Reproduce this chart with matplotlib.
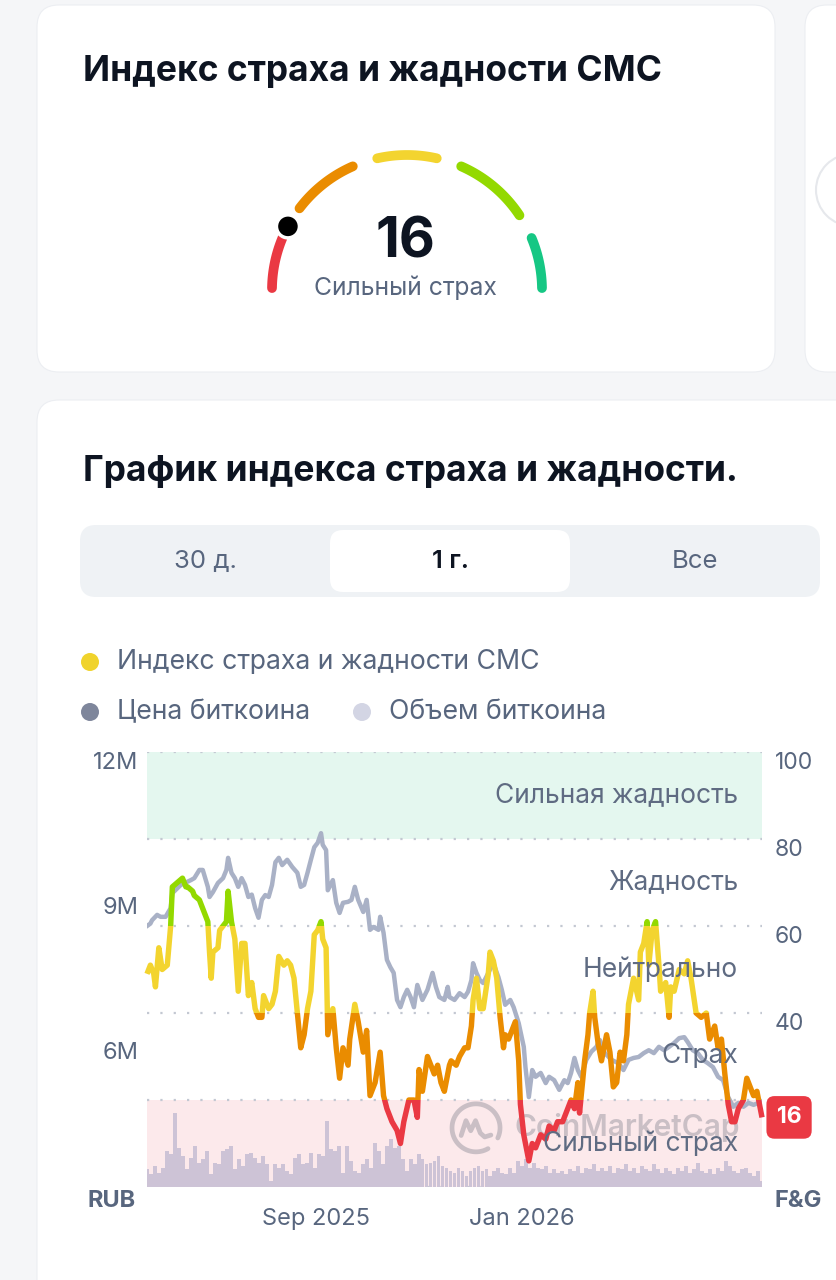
import numpy as np
import pandas as pd
import matplotlib
matplotlib.use('Agg')
import matplotlib.pyplot as plt
import matplotlib.transforms as mtrans
from matplotlib.patches import FancyBboxPatch, Rectangle, Circle

plt.rcParams['font.family'] = ['Inter', 'DejaVu Sans']

# --- данные ---
start_date = '2025-05-24'
current_value = 16
current_label = 'Сильный страх'

# индекс страха и жадности (дни от начала, значение 0..100)
fg_days = [0, 2, 4, 5, 7, 9, 12, 14, 15, 18,
           21, 23, 24, 27, 28, 31, 33, 36, 37, 38,
           39, 42, 43, 45, 47, 48, 50, 52, 54, 56,
           58, 60, 62, 64, 66, 68, 69, 72, 74, 76,
           78, 81, 83, 85, 87, 89, 91, 93, 95, 97,
           99, 101, 103, 104, 106, 107, 110, 112, 114, 116,
           119, 120, 123, 125, 128, 130, 132, 135, 138, 140,
           142, 145, 148, 150, 152, 155, 158, 160, 161, 163,
           166, 168, 170, 172, 174, 176, 179, 180, 183, 185,
           188, 190, 192, 193, 195, 197, 199, 202, 203, 205,
           207, 209, 211, 212, 214, 217, 218, 220, 221, 223,
           226, 228, 230, 233, 236, 238, 241, 243, 246, 248,
           251, 253, 255, 256, 259, 261, 262, 264, 265, 267,
           269, 272, 274, 276, 278, 280, 282, 284, 285, 287,
           288, 291, 292, 294, 296, 297, 299, 301, 303, 304,
           307, 309, 310, 312, 315, 318, 320, 322, 325, 328,
           331, 333, 336, 338, 340, 342, 344, 346, 348, 350,
           353, 355, 357, 359, 361, 362, 364]
fg_vals = [49, 51, 49, 46, 55, 50, 51, 60, 69, 70,
           71, 69, 69, 68, 67, 66, 64, 61, 54, 48,
           54, 55, 59, 60, 61, 68, 61, 57, 45, 56,
           56, 44, 47, 41, 39, 39, 44, 41, 42, 45,
           53, 51, 52, 51, 48, 40, 32, 35, 41, 45,
           58, 59, 61, 57, 55, 35, 41, 32, 25, 32,
           28, 34, 42, 38, 31, 36, 21, 24, 31, 21,
           18, 15, 13, 10, 15, 20, 20, 16, 27, 22,
           30, 28, 26, 28, 24, 22, 28, 29, 28, 30,
           32, 32, 37, 43, 48, 41, 41, 49, 54, 52,
           48, 39, 32, 35, 34, 37, 38, 29, 19, 12,
           6, 10, 9, 12, 11, 14, 13, 15, 15, 17,
           20, 18, 24, 17, 29, 35, 40, 45, 39, 33,
           29, 35, 31, 23, 24, 31, 29, 35, 42, 46,
           48, 43, 54, 56, 61, 51, 59, 61, 51, 45,
           47, 39, 46, 45, 50, 49, 52, 48, 40, 39,
           40, 34, 37, 32, 34, 26, 19, 15, 15, 18,
           20, 25, 23, 21, 22, 20, 16]

# цена биткоина, млн руб.
price_days = [0, 2, 3, 6, 8, 11, 14, 15, 20, 26,
              28, 31, 33, 36, 37, 39, 42, 45, 47, 48,
              50, 52, 54, 56, 58, 60, 62, 64, 66, 68,
              70, 72, 74, 76, 78, 80, 83, 86, 89, 91,
              93, 95, 97, 99, 101, 103, 104, 106, 107, 110,
              112, 114, 116, 119, 121, 123, 125, 128, 130, 132,
              134, 137, 138, 140, 142, 144, 146, 148, 150, 152,
              154, 156, 158, 160, 163, 166, 169, 171, 173, 176,
              178, 179, 182, 185, 188, 190, 192, 193, 195, 197,
              199, 202, 205, 208, 210, 212, 215, 217, 220, 223,
              224, 226, 228, 230, 233, 236, 238, 241, 244, 247,
              249, 251, 253, 255, 257, 260, 263, 266, 268, 271,
              275, 279, 282, 285, 288, 291, 294, 297, 300, 303,
              306, 309, 312, 315, 318, 320, 323, 326, 329, 332,
              335, 338, 341, 344, 347, 350, 353, 356, 359, 362,
              364]
price_vals = [8.40, 8.45, 8.52, 8.63, 8.59, 8.59, 8.77, 9.08, 9.25, 9.35,
              9.39, 9.56, 9.56, 9.21, 9.00, 9.10, 9.29, 9.39, 9.56, 9.81,
              9.50, 9.39, 9.21, 9.39, 9.25, 9.00, 9.05, 8.77, 8.57, 8.94,
              9.04, 9.00, 9.25, 9.72, 9.81, 9.66, 9.77, 9.62, 9.50, 9.21,
              9.25, 9.50, 9.77, 10.03, 10.12, 10.32, 10.08, 9.97, 9.14, 9.35,
              8.88, 8.67, 8.88, 8.90, 8.94, 9.21, 8.94, 8.69, 8.94, 8.32,
              8.38, 8.32, 8.59, 8.26, 7.70, 7.55, 7.43, 6.87, 6.72, 6.93,
              7.08, 6.93, 6.72, 7.18, 6.87, 7.08, 7.43, 7.14, 6.93, 6.87,
              7.14, 6.93, 6.87, 7.01, 6.93, 7.04, 7.28, 7.63, 7.43, 7.28,
              7.22, 7.43, 7.63, 7.34, 7.08, 6.77, 6.87, 6.72, 6.39, 5.90,
              5.48, 4.86, 5.42, 5.28, 5.36, 5.15, 5.28, 5.21, 5.01, 5.21,
              5.15, 5.36, 5.67, 5.42, 5.28, 5.63, 5.80, 5.90, 6.04, 5.77,
              5.63, 5.56, 5.42, 5.63, 5.67, 5.69, 5.77, 5.83, 5.77, 5.90,
              5.83, 5.90, 5.98, 6.08, 6.10, 6.00, 5.83, 5.77, 5.63, 5.56,
              5.48, 5.28, 5.21, 4.86, 4.66, 4.74, 4.66, 4.74, 4.70, 4.74,
              4.74]

# объем биткоина (условные единицы), равномерно по году
vol_vals = [18, 13, 21, 14, 19, 36, 33, 74, 39, 31, 18, 29, 41, 24, 28, 36, 13, 24,
            23, 36, 38, 41, 18, 28, 21, 33, 34, 29, 24, 31, 23, 6, 23, 19, 23, 16,
            13, 29, 33, 23, 24, 34, 19, 33, 31, 66, 38, 36, 41, 14, 41, 26, 16,
            14, 23, 28, 19, 44, 36, 23, 41, 48, 39, 41, 28, 16, 28, 23, 33, 28, 23,
            24, 26, 31, 21, 19, 16, 14, 19, 16, 11, 16, 19, 21, 16, 18, 11, 16, 19,
            14, 13, 19, 14, 26, 21, 28, 19, 24, 19, 18, 21, 14, 18, 14, 16,
            13, 18, 16, 21, 14, 19, 18, 23, 16, 19, 16, 21, 14, 19, 18, 23, 16, 19,
            14, 21, 18, 16, 23, 18, 14, 19, 16, 13, 19, 16, 21, 14, 18, 24, 16, 14,
            18, 13, 19, 16, 26, 21, 16, 14, 18, 19, 14, 11, 16, 6]

zone_bounds = [0, 20, 40, 60, 80, 100]
zone_colors = ['#ea3943', '#ea8c00', '#f3d42f', '#93d900', '#16c784']
zone_names = ['Сильный страх', 'Страх', 'Нейтрально', 'Жадность', 'Сильная жадность']
price_ticks = [6, 9, 12]
fg_ticks = [40, 60, 80, 100]
x_ticks = ['2025-09-01', '2026-01-01']
x_labels = ['Sep 2025', 'Jan 2026']
tabs = ['30 д.', '1 г.', 'Все']

dark = '#0d1421'
grey = '#58667e'

start = pd.Timestamp(start_date)
fg_dates = start + pd.to_timedelta(fg_days, unit='D')
price_dates = start + pd.to_timedelta(price_days, unit='D')
vol_days = np.linspace(0, 364, len(vol_vals))
vol_dates = start + pd.to_timedelta(vol_days, unit='D')
x_end = start + pd.Timedelta(days=364)

fig = plt.figure(figsize=(8.36, 12.8), dpi=100)
fig.patch.set_facecolor('#f5f6f8')

# фон, карточки, заголовки (координаты в пикселях картинки)
bg = fig.add_axes([0, 0, 1, 1])
bg.set_xlim(0, 836)
bg.set_ylim(1280, 0)
bg.axis('off')

bg.add_patch(FancyBboxPatch((37, 5), 738, 367, boxstyle='round,pad=0,rounding_size=22',
                            fc='white', ec='#eceef2', lw=0.8))
bg.add_patch(FancyBboxPatch((805, 5), 80, 367, boxstyle='round,pad=0,rounding_size=22',
                            fc='white', ec='#eceef2', lw=0.8))
bg.add_patch(Circle((852, 190), 36, fc='none', ec='#e6e8ec', lw=1.5))
bg.add_patch(FancyBboxPatch((37, 400), 840, 950, boxstyle='round,pad=0,rounding_size=22',
                            fc='white', ec='#eceef2', lw=0.8))

bg.text(83, 71, 'Индекс страха и жадности CMC', fontsize=25.5, fontweight='bold',
        color=dark, va='center', ha='left')

# шкала-полукруг
cx, cy, r = 407, 290, 135
def ang(v):
    return 181 - v * 1.82
gauge_spans = [(1, 13), (21, 37), (43, 57), (63, 81), (87, 99)]
for (v0, v1), col in zip(gauge_spans, zone_colors):
    t = np.radians(np.linspace(ang(v0), ang(v1), 80))
    bg.plot(cx + r * np.cos(t), cy - r * np.sin(t), color=col, lw=7,
            solid_capstyle='round')
ta = np.radians(ang(current_value))
bg.add_patch(Circle((cx + r * np.cos(ta), cy - r * np.sin(ta)), 11.5, fc='black',
                    ec='white', lw=2.5, zorder=5))
bg.text(405, 243, str(current_value), fontsize=40, fontweight='bold', color=dark,
        ha='center', va='center')
bg.text(405, 288, current_label, fontsize=17.8, color=grey, ha='center', va='center')

bg.text(83, 471, 'График индекса страха и жадности.', fontsize=25.5, fontweight='bold',
        color=dark, va='center', ha='left')

# переключатель периода
bg.add_patch(FancyBboxPatch((80, 525), 740, 72, boxstyle='round,pad=0,rounding_size=16',
                            fc='#eff2f5', ec='none'))
bg.add_patch(FancyBboxPatch((330, 530), 240, 62, boxstyle='round,pad=0,rounding_size=13',
                            fc='white', ec='none'))
for tx, lab in zip([205, 450, 695], tabs):
    sel = lab == '1 г.'
    bg.text(tx, 561, lab, fontsize=18.5, ha='center', va='center',
            color=dark if sel else grey, fontweight='semibold' if sel else 'normal')

# легенда
legend_items = [(90, 662, '#f0d32c', 'Индекс страха и жадности CMC'),
                (90, 712, '#7e869b', 'Цена биткоина'),
                (362, 712, '#d3d5e4', 'Объем биткоина')]
for lx, ly, col, lab in legend_items:
    bg.add_patch(Circle((lx, ly), 9, fc=col, ec='none'))
    bg.text(lx + 27, ly, lab, fontsize=19.2, color=grey, ha='left', va='center')

bg.text(112, 1201, 'RUB', fontsize=17, fontweight='bold', color=grey, ha='center', va='center')
bg.text(798, 1201, 'F&G', fontsize=17, fontweight='bold', color=grey, ha='center', va='center')

# --- график ---
rect = [147 / 836, (1280 - 1187) / 1280, 615 / 836, 435 / 1280]
ax = fig.add_axes(rect)
ax.set_facecolor('none')
axv = ax.twinx()
axp = ax.twinx()
axl = ax.twinx()
for a in (ax, axv, axp, axl):
    a.set_facecolor('none')
    for s in a.spines.values():
        s.set_visible(False)
    a.set_xlim(start, x_end)

ax.set_ylim(0, 100)
axl.set_ylim(0, 100)
blend = mtrans.blended_transform_factory(ax.transAxes, ax.transData)
ax.add_patch(Rectangle((0, 80), 1, 20, transform=blend, fc='#e4f7ef', ec='none'))
ax.add_patch(Rectangle((0, 0), 1, 20, transform=blend, fc='#fce9eb', ec='none'))
for lvl in zone_bounds:
    ax.axhline(lvl, color='#c3c8d2', lw=1.6, ls=(0, (1, 5)))
ax.yaxis.tick_right()
ax.set_yticks(fg_ticks, [str(v) for v in fg_ticks])
ax.tick_params(axis='y', length=0, pad=9, labelsize=16.5, labelcolor=grey)
for t in ax.get_yticklabels():
    t.set_va('top')
ax.set_xticks(pd.to_datetime(x_ticks), x_labels)
ax.tick_params(axis='x', length=0, pad=15, labelsize=17, labelcolor=grey)

# объем
axv.set_ylim(0, 435)
axv.bar(vol_dates, vol_vals, width=2.3, color='#cdc3d6', align='center')
axv.set_yticks([])
# водяной знак
wm_col = '#8e8c98'
lcx, lcy, lr = 0.535, 0.136, 24
t = np.radians(np.linspace(-25, 300, 100))
axv.plot(lcx + lr * np.cos(t) / 615, lcy + lr * np.sin(t) / 435, transform=axv.transAxes,
         color=wm_col, lw=3.4, alpha=0.45, solid_capstyle='round')
mx = np.array([-0.62, -0.42, -0.22, -0.02, 0.18, 0.36, 0.62])
my = np.array([-0.32, 0.3, -0.12, 0.3, -0.22, -0.38, -0.3])
axv.plot(lcx + mx * lr / 615, lcy + my * lr / 435, transform=axv.transAxes,
         color=wm_col, lw=3.4, alpha=0.45, solid_capstyle='round', solid_joinstyle='round')
axv.text(0.598, 0.136, 'CoinMarketCap', transform=axv.transAxes, fontsize=21.5,
         fontweight='semibold', color=wm_col, alpha=0.45, ha='left', va='center')

# цена
axp.set_ylim(3, 12)
axp.plot(price_dates, price_vals, color='#a9b1c6', lw=3.2, solid_joinstyle='round')
axp.yaxis.tick_left()
axp.set_yticks(price_ticks, [f'{v}M' for v in price_ticks])
axp.tick_params(axis='y', length=0, pad=6, labelsize=17, labelcolor=grey)
for t in axp.get_yticklabels():
    t.set_va('top')

# индекс, цвет по зонам
blend_l = mtrans.blended_transform_factory(axl.transAxes, axl.transData)
for lo, hi, col in zip(zone_bounds[:-1], zone_bounds[1:], zone_colors):
    ln, = axl.plot(fg_dates, fg_vals, color=col, lw=3.9, solid_joinstyle='round',
                   solid_capstyle='butt')
    clip = Rectangle((-0.05, lo), 1.1, hi - lo, transform=blend_l, fc='none', ec='none')
    axl.add_patch(clip)
    ln.set_clip_path(clip)
axl.set_yticks([])

for lvl, name in zip([10, 30, 50, 70, 90], zone_names):
    axl.text(0.961, lvl, name, transform=blend_l, fontsize=19, color='#5f6b82',
             ha='right', va='center')

axl.text(1.044, fg_vals[-1], str(fg_vals[-1]), transform=blend_l, fontsize=16.5,
         fontweight='bold', color='white', ha='center', va='center', clip_on=False,
         bbox=dict(boxstyle='round,pad=0.45,rounding_size=0.35', fc='#ea3943', ec='none'))

fig.savefig('out.png', dpi=100, facecolor=fig.get_facecolor())
